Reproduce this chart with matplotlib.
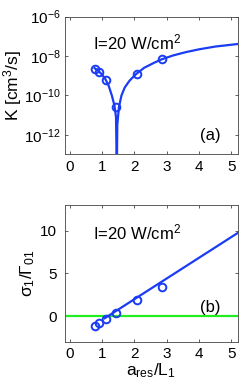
import matplotlib
matplotlib.use("Agg")
import matplotlib.pyplot as plt
import numpy as np

plt.rcParams['font.family'] = ['Liberation Sans', 'DejaVu Sans']
plt.rcParams['mathtext.fontset'] = 'custom'
plt.rcParams['mathtext.rm'] = 'Liberation Sans'
plt.rcParams['mathtext.it'] = 'Liberation Sans'
plt.rcParams['mathtext.default'] = 'regular'

blue = '#1a3cf5'
green = '#22ee22'

# measured points
x_pts = [0.77, 0.90, 1.11, 1.43, 2.07, 2.84]
K_pts = [2.2e-9, 1.6e-9, 6.4e-10, 2.6e-11, 1.2e-9, 6.8e-9]
sig_pts = [-1.17, -0.86, -0.39, 0.39, 1.83, 3.46]

# model curve (a)
x_K = [0.77, 0.90, 1.00, 1.10, 1.20, 1.30, 1.38, 1.43, 1.455,
       1.47, 1.52, 1.60, 1.70, 1.85, 2.05, 2.30, 2.60, 2.84,
       3.20, 3.60, 4.00, 4.50, 5.20]
logK = [-8.62, -8.78, -8.95, -9.17, -9.50, -10.0, -10.5, -11.1, -14.0,
        -11.5, -10.6, -10.0, -9.6, -9.25, -8.92, -8.60, -8.35, -8.17,
        -7.97, -7.80, -7.66, -7.52, -7.39]

# model line (b)
x_sig = [1.08, 5.20]
sig_line = [-0.25, 9.75]

fig = plt.figure(figsize=(2.45, 3.87), dpi=100)
ax1 = fig.add_axes([0.265, 0.601, 0.706, 0.356])
ax2 = fig.add_axes([0.265, 0.117, 0.706, 0.353])

ax1.semilogy(x_K, 10.0 ** np.array(logK), color=blue, lw=1.6)
ax1.semilogy(x_pts, K_pts, 'o', mfc='none', mec=blue, mew=1.4, ms=5.5)
ax1.set_xlim(-0.15, 5.2)
ax1.set_ylim(1e-13, 1e-6)
ax1.set_yticks([1e-12, 1e-10, 1e-8, 1e-6])
ax1.yaxis.set_minor_locator(matplotlib.ticker.NullLocator())
ax1.set_xticks([0, 1, 2, 3, 4, 5])
ax1.set_ylabel('K [cm$^3$/s]', fontsize=12.5, labelpad=0)
ax1.text(0.16, 0.81, 'I=20 W/cm$^2$', transform=ax1.transAxes, fontsize=12, va='center')
ax1.text(0.84, 0.14, '(a)', transform=ax1.transAxes, fontsize=12, va='center', ha='center')
ax1.tick_params(axis='y', pad=3)

ax2.axhline(0, color=green, lw=1.6)
ax2.plot(x_sig, sig_line, color=blue, lw=1.6)
ax2.plot(x_pts, sig_pts, 'o', mfc='none', mec=blue, mew=1.4, ms=5.5)
ax2.set_xlim(-0.15, 5.2)
ax2.set_ylim(-3, 13)
ax2.set_yticks([0, 5, 10])
ax2.set_xticks([0, 1, 2, 3, 4, 5])
ax2.set_ylabel('σ$_1$/Γ$_{01}$', fontsize=12.5, labelpad=2)
ax2.set_xlabel('a$_{res}$/L$_1$', fontsize=12.5, labelpad=0)
ax2.text(0.16, 0.80, 'I=20 W/cm$^2$', transform=ax2.transAxes, fontsize=12, va='center')
ax2.text(0.84, 0.25, '(b)', transform=ax2.transAxes, fontsize=12, va='center', ha='center')
ax2.tick_params(axis='y', pad=6)

for ax in (ax1, ax2):
    ax.tick_params(direction='in', top=True, right=True, length=2.5, width=0.6,
                   labelsize=11, color='#444444')
    ax.tick_params(axis='x', pad=4)
    for s in ax.spines.values():
        s.set_linewidth(0.6)
        s.set_color('#444444')

fig.savefig('out.png', dpi=100)
